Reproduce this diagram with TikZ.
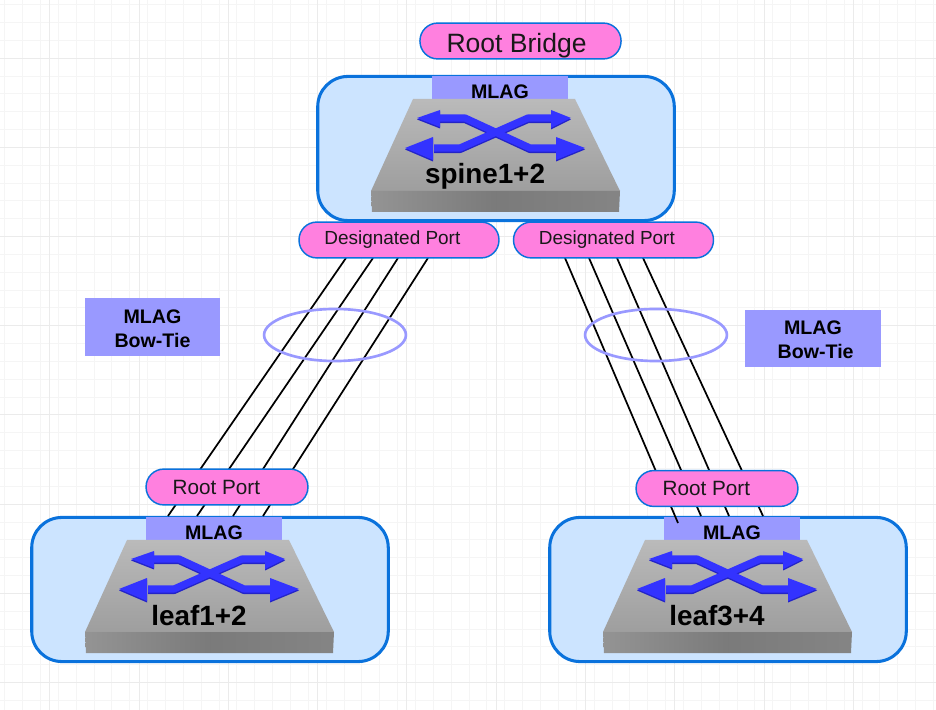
\documentclass[tikz,border=0pt]{standalone}
\usepackage{fontspec}
\setmainfont{Liberation Sans}
\usetikzlibrary{shapes.geometric}
\definecolor{pillpink}{HTML}{FF80DF}
\definecolor{edgeblue}{HTML}{0A72DC}
\definecolor{hostfill}{HTML}{CCE4FF}
\definecolor{lagblue}{HTML}{9999FF}
\definecolor{arrowblue}{HTML}{3333FF}
\definecolor{arrowedge}{HTML}{2424C8}
\tikzset{
  hostbox/.style={draw=edgeblue,line width=2.3pt,fill=hostfill,rounded corners=0.8cm,minimum width=9.45cm,minimum height=3.82cm},
  pill/.style={draw=edgeblue,line width=1.1pt,fill=pillpink,rounded corners=0.47cm,minimum height=0.95cm,inner sep=0pt,text=black!90},
  lagtag/.style={fill=lagblue,minimum width=3.6cm,minimum height=0.61cm,inner sep=0pt,font=\fontsize{14.8}{18}\selectfont\bfseries},
  bowtie/.style={fill=lagblue,minimum width=3.58cm,minimum height=1.53cm,inner sep=0pt,align=center,font=\fontsize{14.8}{18}\selectfont\bfseries},
  lagring/.style={ellipse,draw=lagblue,line width=2pt,minimum width=3.76cm,minimum height=1.38cm,inner sep=0pt},
  link/.style={line width=1.3pt,black},
  pics/switchbox/.style={code={
    \node[hostbox] (box) at (0,72.5) {};
    \node[lagtag] (tag) at (4,11.5) {\rule{0pt}{16.6pt}MLAG};
    \shade[top color=black!27,bottom color=black!38] (-83,23) -- (79,23) -- (124,115) -- (-125,115) -- cycle;
    \shade[left color=black!42,right color=black!48,middle color=black!52] (-125,115) -- (124,115) -- (123,136) -- (-124,136) -- cycle;
    \begin{scope}[shift={(-2,58)}]
      \foreach \dy/\col in {1.5/arrowedge,0/arrowblue} {
        \begin{scope}[yshift=-\dy*0.0265cm]
          \draw[\col,line width=5.4pt,line join=round] (-60,14) -- (-34,14) -- (34,-16) -- (60,-16);
          \draw[\col,line width=5.4pt,line join=round] (-60,-16) -- (-29,-16) -- (36,14) -- (66,14);
          \fill[\col] (-77,-16) -- (-54,-24) -- (-54,-7) -- cycle;
          \fill[\col] (-89,14) -- (-61,3) -- (-61,26) -- cycle;
          \fill[\col] (77,-16) -- (57,-24) -- (57,-6) -- cycle;
          \fill[\col] (91,14) -- (62,3) -- (62,26) -- cycle;
        \end{scope}
      }
    \end{scope}
    \node[anchor=base,font=\fontsize{21}{24}\selectfont\bfseries] (name) at (-11,108) {#1};
  }}
}

\begin{document}
\begin{tikzpicture}[x=0.0265cm,y=-0.0265cm]
  \useasboundingbox (0,0) rectangle (936,710);
  % grid
  \foreach \k in {0,...,52} {
    \draw[black!4,line width=0.5pt] ({4.6+17.86*\k},0) -- ({4.6+17.86*\k},710);
  }
  \foreach \k in {0,...,39} {
    \draw[black!4,line width=0.5pt] (0,{4.5+17.84*\k}) -- (936,{4.5+17.84*\k});
  }
  \foreach \k in {0,...,10} {
    \draw[black!8,line width=0.6pt] ({49.6+89.3*\k},0) -- ({49.6+89.3*\k},710);
  }
  \foreach \k in {0,...,7} {
    \draw[black!8,line width=0.6pt] (0,{58+89.2*\k}) -- (936,{58+89.2*\k});
  }
  % switches
  \pic (spine) at (496,76) {switchbox={spine1+2}};
  \pic (leafa) at (210,517) {switchbox={leaf1+2}};
  \pic (leafb) at (728,517) {switchbox={leaf3+4}};
  % links
  \foreach \i/\tx/\bx in {1/346/168,2/373/197,3/398/233,4/428/263} {
    \coordinate (dl\i) at (\tx,258);
    \coordinate (rl\i) at (\bx,516);
    \draw[link] (dl\i) -- (rl\i);
  }
  \foreach \i/\tx/\ty/\bx/\by in {1/565/258/678/523,2/589/258/701/516,3/617/258/729/516,4/643/258/763/516} {
    \coordinate (dr\i) at (\tx,\ty);
    \coordinate (rr\i) at (\bx,\by);
    \draw[link] (dr\i) -- (rr\i);
  }
  % ports
  \node[pill,minimum width=5.33cm,font=\fontsize{20}{24}\selectfont] (bridge) at (520.5,41) {\rule{0pt}{22pt}Root Bridge\kern6pt};
  \node[pill,minimum width=5.3cm,font=\fontsize{14.3}{18}\selectfont] (desa) at (399,240) {Designated Port\kern10pt};
  \node[pill,minimum width=5.3cm,font=\fontsize{14.3}{18}\selectfont] (desb) at (613.5,240) {Designated Port\kern10pt};
  \node[pill,minimum width=4.29cm,font=\fontsize{15.6}{18}\selectfont] (roota) at (227,487) {Root Port\kern16pt};
  \node[pill,minimum width=4.29cm,font=\fontsize{15.6}{18}\selectfont] (rootb) at (717,488.5) {Root Port\kern16pt};
  % bundles
  \node[lagring] (laga) at (335,335) {};
  \node[lagring] (lagb) at (656,335) {};
  \node[bowtie] (bowa) at (152.5,327) {\rule{0pt}{13.6pt}MLAG\\Bow-Tie};
  \node[bowtie] (bowb) at (813,338.5) {\rule{0pt}{12.2pt}MLAG\\\hspace*{4pt}Bow-Tie};
\end{tikzpicture}
\end{document}
